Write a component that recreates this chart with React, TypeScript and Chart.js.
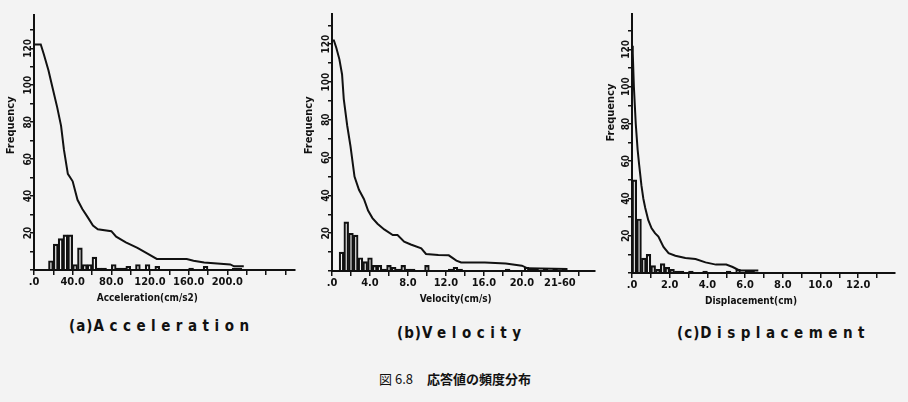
import React, { useEffect, useRef } from "react";
import { Chart, registerables } from "chart.js";

Chart.register(...registerables);

// ---------- (a) Acceleration ----------
const accBins = [17.5, 22.5, 27.5, 32.5, 37.5, 42.5, 47.5, 52.5, 57.5, 62.5, 67.5, 72.5, 82.5, 87.5, 92.5, 97.5, 107.5, 117.5, 127.5, 162.5, 177.5, 207.5, 212.5];
const accCounts = [5, 14, 17, 19, 19, 3, 12, 3, 3, 7, 1, 1, 3, 1, 1, 2, 3, 3, 2, 1, 2, 1, 1];
const accCumX = [0, 7, 10, 15, 19, 24, 28, 31, 35, 40, 45, 50, 55, 61, 66, 80, 85, 95, 107, 117, 127, 158, 165, 176, 203, 207, 217];
const accCumY = [122, 122, 117, 108, 99, 88, 78, 65, 52, 48, 38, 33, 29, 24, 22, 21, 18, 15, 12, 9, 6, 6, 5, 4, 3, 2, 2];
const accTickValues = [0, 40, 80, 120, 160, 200];
const accTickLabels = [".0", "40.0", "80.0", "120.0", "160.0", "200.0"];

// ---------- (b) Velocity ----------
const velBins = [1.0, 1.5, 2.0, 2.5, 3.0, 3.5, 4.0, 4.5, 5.0, 5.5, 6.0, 6.5, 7.0, 7.5, 8.0, 8.5, 10.0, 12.5, 13.0, 13.5, 18.5, 20.5, 21.0, 21.5, 22.5, 23.5, 24.5];
const velCounts = [10, 26, 20, 19, 7, 5, 7, 3, 3, 1, 3, 2, 1, 3, 1, 1, 3, 1, 2, 1, 1, 2, 1, 1, 1, 1, 1];
const velCumX = [0, 0.2, 0.46, 0.78, 1.06, 1.24, 1.6, 1.95, 2.37, 2.84, 3.37, 3.8, 4.26, 4.79, 5.5, 6.4, 6.9, 7.6, 8.3, 9.4, 9.9, 11.2, 12.3, 13.1, 13.6, 16.1, 18.3, 20.0, 20.6, 24.8];
const velCumY = [122, 122, 118, 112, 104, 91, 77, 66, 50, 43, 38, 32, 28, 25, 22, 19, 19, 15.5, 14, 12, 9, 8.5, 8.3, 5.5, 4.5, 4.5, 4, 2.8, 1.4, 1];
const velTickValues = [0, 4, 8, 12, 16, 20, 24];
const velTickLabels = [".0", "4.0", "8.0", "12.0", "16.0", "20.0", "21-60"];

// ---------- (c) Displacement ----------
const dispBins = [0.125, 0.375, 0.625, 0.875, 1.125, 1.375, 1.625, 1.875, 2.125, 2.375, 2.625, 3.125, 3.875, 5.125, 5.625, 6.125, 6.375];
const dispCounts = [50, 29, 8, 10, 4, 2, 5, 3, 2, 1, 1, 1, 1, 1, 2, 1, 1];
const dispCumX = [0, 0.04, 0.1, 0.2, 0.3, 0.38, 0.5, 0.6, 0.7, 0.86, 1.04, 1.22, 1.4, 1.67, 1.94, 2.3, 2.83, 3.37, 3.9, 4.45, 5.0, 5.34, 5.7, 6.7];
const dispCumY = [122, 118, 100, 80, 66, 58, 47, 40, 35, 28.5, 24, 21.4, 19.6, 14, 10.7, 9.3, 8, 7.5, 5.7, 4.5, 4.5, 3.2, 1.4, 1.4];
const dispTickValues = [0, 2, 4, 6, 8, 10, 12];
const dispTickLabels = [".0", "2.0", "4.0", "6.0", "8.0", "10.0", "12.0"];

const INK = "#111111";
const NARROW = "'Liberation Sans Narrow', 'DejaVu Sans Condensed', 'Liberation Sans', sans-serif";

type Spec = {
  left: number; top: number; width: number; height: number;
  yAxisWidth: number; xAxisHeight: number; padTop: number; padRight: number;
  yMax: number; xMax: number; xStep: number;
  tickValues: number[]; tickLabels: string[];
  bins: number[]; counts: number[]; cumX: number[]; cumY: number[];
  xTitle: string; xTitleShift: number; yTitlePad: number; yTitleShift: number;
};

function Panel({ spec }: { spec: Spec }) {
  const ref = useRef<HTMLCanvasElement>(null);
  useEffect(() => {
    const s = spec;
    const chart = new Chart(ref.current as HTMLCanvasElement, {
      type: "bar",
      data: {
        datasets: [
          {
            type: "line",
            data: s.cumX.map((x, i) => ({ x, y: s.cumY[i] })),
            borderColor: INK,
            borderWidth: 2,
            pointRadius: 0,
            tension: 0,
            fill: false,
            order: 0,
          } as any,
          {
            type: "bar",
            data: s.bins.map((x, i) => ({ x, y: s.counts[i] })),
            backgroundColor: "rgba(0,0,0,0)",
            borderColor: INK,
            borderWidth: 1.5,
            barPercentage: 1,
            categoryPercentage: 1,
            order: 1,
          } as any,
        ],
      },
      options: {
        responsive: false,
        maintainAspectRatio: false,
        animation: false,
        layout: { padding: { top: s.padTop, right: s.padRight, left: 0, bottom: 0 } },
        plugins: { legend: { display: false }, tooltip: { enabled: false } },
        scales: {
          x: {
            type: "linear",
            min: 0,
            max: s.xMax,
            offset: false,
            ticks: {
              stepSize: s.xStep,
              autoSkip: false,
              minRotation: 0,
              maxRotation: 0,
              includeBounds: false,
              padding: 1,
              color: INK,
              font: { family: NARROW, size: 11, weight: "bold" },
              callback: (v: any) => {
                const i = s.tickValues.findIndex((t) => Math.abs(t - Number(v)) < 1e-6);
                return i >= 0 ? s.tickLabels[i] : "";
              },
            },
            grid: { drawOnChartArea: false, drawTicks: true, tickLength: 5, color: INK, lineWidth: 1.5, offset: false },
            border: { color: INK, width: 2 },
            title: {
              display: true,
              text: s.xTitle + " ".repeat(s.xTitleShift),
              color: INK,
              font: { family: NARROW, size: 10, weight: "bold" },
              padding: 0,
            },
            afterFit: (sc: any) => { sc.height = s.xAxisHeight; },
          },
          y: {
            type: "linear",
            min: 0,
            max: s.yMax,
            ticks: {
              stepSize: 10,
              autoSkip: false,
              includeBounds: false,
              minRotation: 90,
              maxRotation: 90,
              crossAlign: "center",
              padding: -8,
              color: INK,
              font: { family: NARROW, size: 10, weight: "bold" },
              callback: (v: any) => (Number(v) > 0 && Number(v) % 20 === 0 ? String(v) : ""),
            },
            grid: { drawOnChartArea: false, drawTicks: true, tickLength: 4, color: INK, lineWidth: 1.5 },
            border: { color: INK, width: 2 },
            title: {
              display: true,
              text: " ".repeat(s.yTitleShift) + "Frequency",
              color: INK,
              font: { family: NARROW, size: 11, weight: "bold" },
              padding: { top: s.yTitlePad, bottom: 0 },
            },
            afterFit: (sc: any) => { sc.width = s.yAxisWidth; },
          },
        },
      } as any,
    });
    return () => chart.destroy();
  }, [spec]);
  return (
    <canvas
      ref={ref}
      width={spec.width}
      height={spec.height}
      style={{ position: "absolute", left: spec.left, top: spec.top, width: spec.width, height: spec.height }}
    />
  );
}

const specA: Spec = {
  left: 0, top: 0, width: 300, height: 304, yAxisWidth: 34, xAxisHeight: 34, padTop: 15, padRight: 5,
  yMax: 138, xMax: 270, xStep: 20, tickValues: accTickValues, tickLabels: accTickLabels,
  bins: accBins, counts: accCounts, cumX: accCumX, cumY: accCumY,
  xTitle: "Acceleration(cm/s2)", xTitleShift: 11, yTitlePad: 5, yTitleShift: 10,
};
const specB: Spec = {
  left: 298, top: 0, width: 300, height: 305, yAxisWidth: 34, xAxisHeight: 34, padTop: 14, padRight: 3,
  yMax: 136, xMax: 27.7, xStep: 2, tickValues: velTickValues, tickLabels: velTickLabels,
  bins: velBins, counts: velCounts, cumX: velCumX, cumY: velCumY,
  xTitle: "Velocity(cm/s)", xTitleShift: 5, yTitlePad: 5, yTitleShift: 10,
};
const specC: Spec = {
  left: 597, top: 0, width: 308, height: 307, yAxisWidth: 35, xAxisHeight: 34, padTop: 14, padRight: 10,
  yMax: 139, xMax: 13.95, xStep: 1, tickValues: dispTickValues, tickLabels: dispTickLabels,
  bins: dispBins, counts: dispCounts, cumX: dispCumX, cumY: dispCumY,
  xTitle: "Displacement(cm)", xTitleShift: 8, yTitlePad: 8, yTitleShift: 18,
};

const subStyle: React.CSSProperties = {
  position: "absolute",
  fontFamily: NARROW,
  fontWeight: "bold",
  fontSize: 15,
  lineHeight: "16px",
  color: INK,
  whiteSpace: "nowrap",
};

function Sub({ left, top, tag, word }: { left: number; top: number; tag: string; word: string }) {
  return (
    <div style={{ ...subStyle, left, top }}>
      <span style={{ letterSpacing: 1 }}>{tag}</span>
      <span style={{ letterSpacing: 5.5 }}>{word}</span>
    </div>
  );
}

export default function App() {
  return (
    <div style={{ position: "fixed", left: 0, top: 0, width: 908, height: 402, background: "#f3f3f3", overflow: "hidden" }}>
      <Panel spec={specA} />
      <Panel spec={specB} />
      <Panel spec={specC} />
      <Sub left={69} top={318} tag="(a)" word="Acceleration" />
      <Sub left={397} top={325} tag="(b)" word="Velocity" />
      <Sub left={677} top={325} tag="(c)" word="Displacement" />
      <div
        style={{
          position: "absolute",
          left: 379,
          top: 371,
          fontFamily: "'Noto Sans CJK JP', sans-serif",
          fontSize: 13,
          lineHeight: "16px",
          color: INK,
          whiteSpace: "nowrap",
        }}
      >
        <span>図 6.8</span>
        <span style={{ marginLeft: 14, fontWeight: "bold" }}>応答値の頻度分布</span>
      </div>
    </div>
  );
}
